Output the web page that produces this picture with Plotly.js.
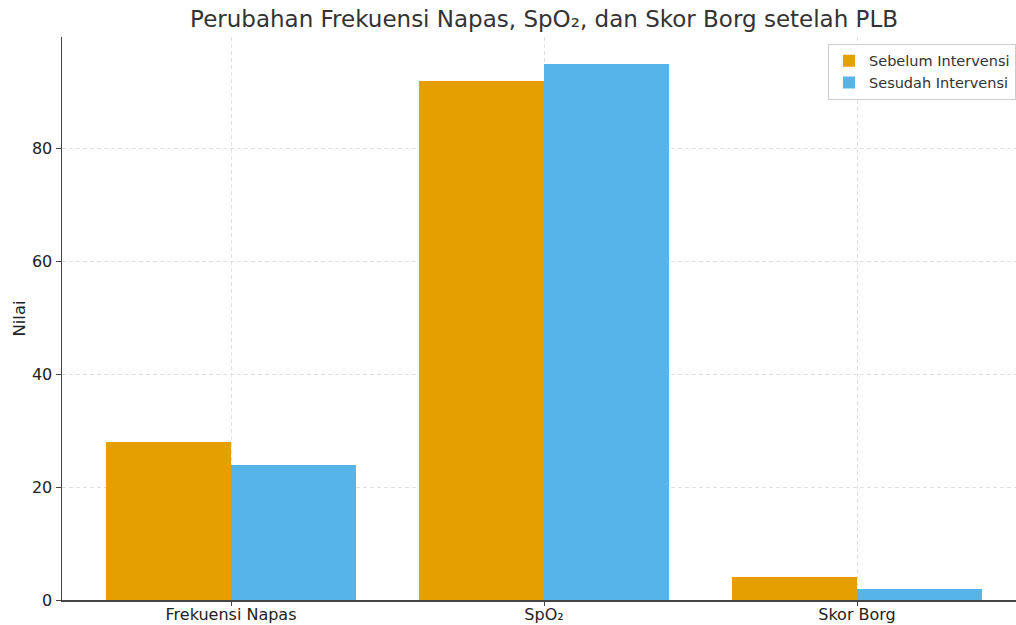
<!DOCTYPE html>
<html><head><meta charset="utf-8">
<script src="https://cdn.plot.ly/plotly-3.0.1.min.js"></script>
<style>html,body{margin:0;padding:0;background:#fff}</style>
</head><body>
<div id="chart" style="width:1016px;height:625px"></div>
<script>
const categories = ["Frekuensi Napas", "SpO₂", "Skor Borg"];
const sebelum = [28, 92, 4];
const sesudah = [24, 95, 2];
const seriesNames = ["Sebelum Intervensi", "Sesudah Intervensi"];
const yTicks = [0, 20, 40, 60, 80];

const idx = categories.map((c, i) => i);
const traces = [
  {type: "bar", x: idx.map(i => i - 0.2), y: sebelum, width: 0.4, name: seriesNames[0],
   marker: {color: "#E69F00"}},
  {type: "bar", x: idx.map(i => i + 0.2), y: sesudah, width: 0.4, name: seriesNames[1],
   marker: {color: "#56B4E9"}}
];
const layout = {
  width: 1016, height: 625,
  margin: {l: 62, r: 0, t: 37, b: 25, autoexpand: false},
  font: {family: "DejaVu Sans", color: "#333"},
  paper_bgcolor: "#fff", plot_bgcolor: "#fff",
  title: {text: "Perubahan Frekuensi Napas, SpO₂, dan Skor Borg setelah PLB",
          font: {size: 23, color: "#333"}, x: 0.5355, xanchor: "center", y: 0.97, yanchor: "middle"},
  barmode: "overlay",
  bargap: 0,
  showlegend: true,
  legend: {x: 1, xanchor: "right", y: 0.988, yanchor: "top", bgcolor: "rgba(255,255,255,0.9)",
           bordercolor: "#ccc", borderwidth: 1, font: {size: 14.5, color: "#333"},
           itemwidth: 30, tracegroupgap: 2},
  xaxis: {range: [-0.54, 2.508], tickmode: "array", tickvals: idx, ticktext: categories,
          showgrid: true, gridcolor: "#e0e0e0", griddash: "4px,3px", gridwidth: 1,
          showline: true, linecolor: "#444", linewidth: 1.5, ticks: "outside", ticklen: 4,
          ticklabelstandoff: -5, automargin: false,
          tickcolor: "#444", tickfont: {size: 16, color: "#222"}, zeroline: false, fixedrange: true},
  yaxis: {range: [0, 99.75], tickmode: "array", tickvals: yTicks, automargin: false,
          showgrid: true, gridcolor: "#e0e0e0", griddash: "4px,3px", gridwidth: 1,
          showline: true, linecolor: "#444", linewidth: 1.5, ticks: "outside", ticklen: 5,
          tickcolor: "#444", tickfont: {size: 16, color: "#222"}, zeroline: false,
          title: {text: "Nilai", font: {size: 16.5, color: "#222"}, standoff: 2}}
};
Plotly.newPlot("chart", traces, layout, {displayModeBar: false, staticPlot: true});
</script>
</body></html>
